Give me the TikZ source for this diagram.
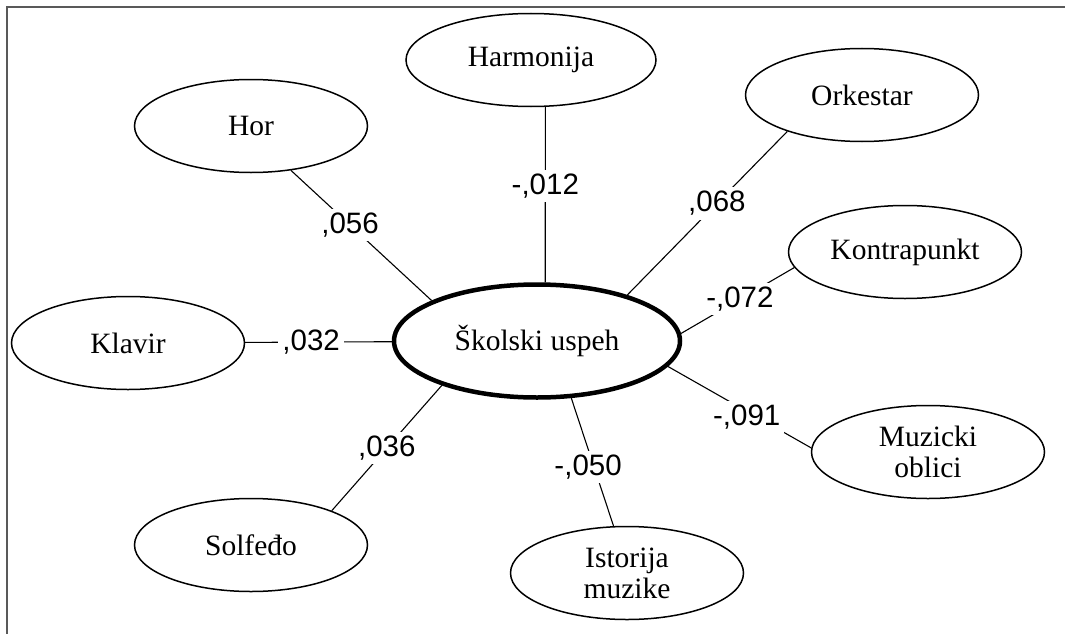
\documentclass[tikz,border=0pt]{standalone}
\usepackage{fontspec}
\setmainfont{Liberation Serif}
\newfontfamily\weightfont{Liberation Sans}
\usetikzlibrary{shapes.geometric}

\begin{document}
\begin{tikzpicture}[x=1pt,y=-1pt,
    subjectblock/.style={draw,ellipse,line width=1.5pt,inner sep=0pt,minimum width=233pt,minimum height=93pt,align=center,font=\fontsize{29.5}{31}\selectfont},
    resultblock/.style={subjectblock,line width=4.5pt,minimum width=286pt,minimum height=113pt},
    weightlabel/.style={fill=white,inner sep=4pt,font=\weightfont\fontsize{29.5}{31}\selectfont},
    link/.style={line width=1.1pt}]
    \useasboundingbox (0,0) rectangle (1065,634);
    \draw[black!65,line width=2pt] (7,634) -- (7,7) -- (1065,7);

    % Blocks
    \node[resultblock]                          (school)    at (537,341) {Školski uspeh};
    \node[subjectblock]                         (hor)       at (251,126) {Hor};
    \node[subjectblock,minimum width=250pt]     (harmonija) at (531,60)  {Harmonija};
    \node[subjectblock]                         (orkestar)  at (862,95)  {Orkestar};
    \node[subjectblock]                         (kontra)    at (905,252) {Kontrapunkt};
    \node[subjectblock]                         (klavir)    at (128,343) {Klavir};
    \node[subjectblock]                         (solfedjo)  at (251,545) {Solfeđo};
    \node[subjectblock]                         (istorija)  at (627,573) {Istorija\\muzike};
    \node[subjectblock]                         (oblici)    at (928,452) {Muzicki\\oblici};

    % Links
    \draw[link] (hor.312)       -- node[weightlabel,pos=.42] {,056}  (school.159);
    \draw[link] (harmonija.287) -- node[weightlabel,pos=.45] {-,012} (school.82);
    \draw[link] (orkestar.206)  -- node[weightlabel,pos=.44] {,068}  (school.27);
    \draw[link] (kontra.188)    -- node[weightlabel,pos=.48] {-,072} (school.3);
    \draw[link] (klavir)        -- node[weightlabel,pos=.45] {,032}  (school);
    \draw[link] (solfedjo.23)   -- node[weightlabel,pos=.5]  {,036}  (school.205);
    \draw[link] (istorija.106)  -- node[weightlabel,pos=.46,xshift=-6pt] {-,050} (school.301);
    \draw[link] (oblici.178)    -- node[weightlabel,pos=.45,yshift=-6pt] {-,091} (school.349);

\end{tikzpicture}
\end{document}
